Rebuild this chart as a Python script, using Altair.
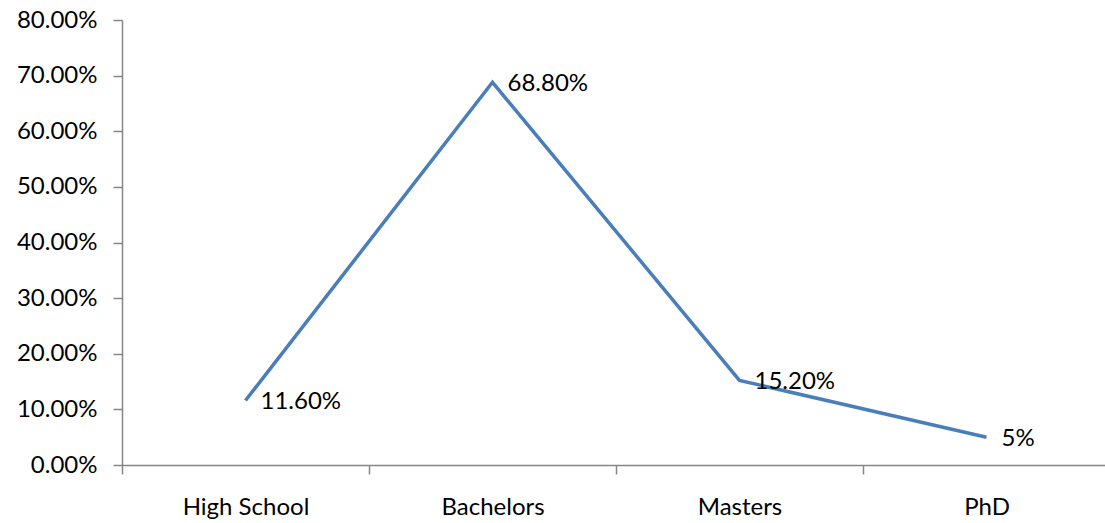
import altair as alt
import pandas as pd

categories = ["High School", "Bachelors", "Masters", "PhD"]
values = [0.116, 0.688, 0.152, 0.05]
labels = ["11.60%", "68.80%", "15.20%", "5%"]

df = pd.DataFrame({"cat": categories, "val": values, "lab": labels})

FONT = "Lato"
AX = "#868686"
FS = 24

x = alt.X("cat:N", sort=categories, title=None,
          scale=alt.Scale(range=[0, 988], paddingInner=0, paddingOuter=0),
          axis=alt.Axis(labelAngle=0, labelFont=FONT, labelFontSize=FS, labelColor="#000000",
                        labelPadding=21, tickSize=9, tickColor=AX, domainColor=AX,
                        tickWidth=1.5, domainWidth=1.5, tickBand="extent", grid=False))
y = alt.Y("val:Q", title=None,
          scale=alt.Scale(domain=[0, 0.8], nice=False),
          axis=alt.Axis(format=".2%", values=[0, 0.1, 0.2, 0.3, 0.4, 0.5, 0.6, 0.7, 0.8],
                        labelFont=FONT, labelFontSize=FS, labelColor="#000000",
                        labelPadding=16, tickSize=9, tickColor=AX, domainColor=AX,
                        tickWidth=1.5, domainWidth=1.5, grid=False))

line = alt.Chart(df).mark_line(color="#4A7EBB", strokeWidth=3.5).encode(x=x, y=y)
text = alt.Chart(df).mark_text(align="left", baseline="middle", dx=15, dy=2,
                               font=FONT, fontSize=FS, color="#000000").encode(
    x=alt.X("cat:N", sort=categories), y="val:Q", text="lab:N")

chart = alt.layer(line, text).properties(
    width=983, height=445,
    autosize=alt.AutoSizeParams(type="none"),
    padding={"left": 122, "top": 20, "right": 0, "bottom": 58},
    background="#ffffff",
).configure_view(stroke=None)

chart.save("out.html", embed_options={"renderer": "svg", "actions": False})
